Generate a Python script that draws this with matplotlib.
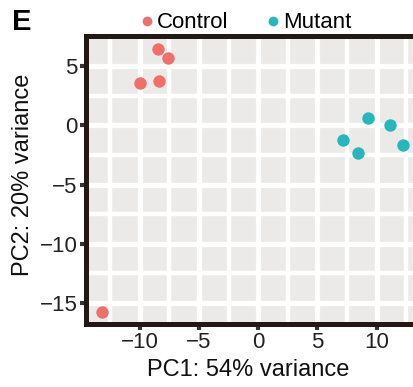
import matplotlib
matplotlib.use("Agg")
import matplotlib.pyplot as plt
from matplotlib.ticker import MultipleLocator
from matplotlib.lines import Line2D

plt.rcParams['font.family'] = ['Liberation Sans', 'DejaVu Sans']

# PCA scores
control_pc1 = [-8.5, -7.6, -10.0, -8.4, -13.2]
control_pc2 = [6.4, 5.7, 3.6, 3.75, -15.75]
mutant_pc1 = [9.3, 11.1, 7.2, 8.4, 12.2]
mutant_pc2 = [0.6, 0.05, -1.25, -2.35, -1.65]
groups = ["Control", "Mutant"]
colors = ["#EF6F6A", "#25B7BA"]

fig = plt.figure(figsize=(4.14, 3.87), dpi=100)
ax = fig.add_axes([86 / 414, (387 - 324) / 387, (424 - 86) / 414, (324 - 36) / 387])
ax.set_facecolor("#EBEAE8")

ax.scatter(control_pc1, control_pc2, s=80, color=colors[0], zorder=3, linewidths=0)
ax.scatter(mutant_pc1, mutant_pc2, s=80, color=colors[1], zorder=3, linewidths=0)

ax.set_xlim(-14.55, 14.0)
ax.set_ylim(-16.77, 7.53)
ax.xaxis.set_minor_locator(MultipleLocator(2.5))
ax.yaxis.set_minor_locator(MultipleLocator(2.5))
ax.grid(which="major", color="white", lw=3.8)
ax.grid(which="minor", color="white", lw=3.2)
ax.set_axisbelow(True)

ax.set_xticks([-10, -5, 0, 5, 10])
ax.set_xticklabels(["\u221210", "\u22125", "0", "5", "10"])
ax.set_yticks([-15, -10, -5, 0, 5])
ax.set_yticklabels(["\u221215", "\u221210", "\u22125", "0", "5"])
ax.tick_params(which="major", length=4, width=3, color="#333333",
               labelsize=16, labelcolor="#222222", pad=2)
ax.tick_params(which="minor", length=0)

for side in ["left", "bottom", "top"]:
    ax.spines[side].set_linewidth(3.6)
    ax.spines[side].set_color("#231815")
ax.spines["right"].set_visible(False)

ax.set_xlabel("PC1: 54% variance", fontsize=17, color="#111111")
ax.set_ylabel("PC2: 20% variance", fontsize=17, color="#111111")
ax.xaxis.set_label_coords(0.479, -0.12)
ax.yaxis.set_label_coords(-0.155, 0.517)

handles = [Line2D([], [], ls="", marker="o", ms=7, color=c, mec="none") for c in colors]
fig.legend(handles, groups, loc="center", bbox_to_anchor=(245 / 414, 1 - 23 / 387),
           ncol=2, frameon=False, fontsize=16, handletextpad=0.05,
           columnspacing=1.6, handlelength=0.8)

fig.text(12 / 414, 1 - 22 / 387, "E", fontsize=21, fontweight="bold", va="center", ha="left")

fig.savefig("out.png", dpi=100)
